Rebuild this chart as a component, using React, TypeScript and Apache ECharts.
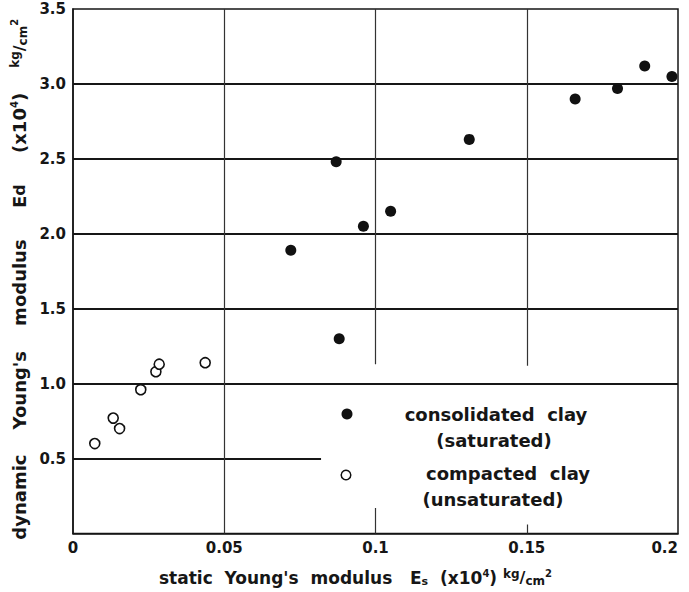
import React, { useEffect, useRef } from "react";
import * as echarts from "echarts";

// consolidated clay (saturated): [Es, Ed] in x10^4 kg/cm2
const consolidatedEs = [0.072, 0.087, 0.096, 0.105, 0.088, 0.131, 0.166, 0.180, 0.189, 0.198];
const consolidatedEd = [1.89, 2.48, 2.05, 2.15, 1.30, 2.63, 2.90, 2.97, 3.12, 3.05];

// compacted clay (unsaturated)
const compactedEs = [0.0072, 0.0133, 0.0154, 0.0224, 0.0274, 0.0285, 0.0437];
const compactedEd = [0.60, 0.77, 0.70, 0.96, 1.08, 1.13, 1.14];

// axis ticks
const xTicks = [0, 0.05, 0.1, 0.15, 0.2];
const yTicks = [0, 0.5, 1.0, 1.5, 2.0, 2.5, 3.0, 3.5];

// grid segments as drawn in the original (partly broken lines)
// horizontal: [y, xFrom, xTo]
const hGrid = [
  [0.5, 0, 0.082],
  [1.0, 0, 0.2],
  [1.5, 0, 0.2],
  [2.0, 0, 0.2],
  [2.5, 0, 0.2],
  [3.0, 0, 0.2],
];
// vertical: [x, yFrom, yTo]
const vGrid = [
  [0.05, 0, 3.5],
  [0.1, 1.13, 3.5],
  [0.1, 0, 0.17],
  [0.15, 1.12, 3.5],
  [0.15, 0, 0.06],
];

const legendLabels = [
  ["consolidated  clay", "(saturated)"],
  ["compacted  clay", "(unsaturated)"],
];

const FONT = "DejaVu Sans";
const INK = "#161616";

export default function App() {
  const ref = useRef<HTMLDivElement>(null);
  useEffect(() => {
    if (!ref.current) return;
    const chart = echarts.init(ref.current, null, { renderer: "svg" });
    const consolidated = consolidatedEs.map((x, i) => [x, consolidatedEd[i]]);
    const compacted = compactedEs.map((x, i) => [x, compactedEd[i]]);

    const gridLines: any[] = [];
    hGrid.forEach(([y, x1, x2]) =>
      gridLines.push([
        { coord: [x1, y], lineStyle: { width: 1.8, color: INK, type: "solid" } },
        { coord: [x2, y] },
      ])
    );
    vGrid.forEach(([x, y1, y2]) =>
      gridLines.push([
        { coord: [x, y1], lineStyle: { width: 1.2, color: "#333", type: "solid" } },
        { coord: [x, y2] },
      ])
    );

    const rich = {
      sub: { fontFamily: FONT, fontWeight: "bold", fontSize: 11, color: INK, padding: [7, 0, 0, 0] },
      sup: { fontFamily: FONT, fontWeight: "bold", fontSize: 10, color: INK, padding: [0, 0, 9, 0] },
      kg: { fontFamily: FONT, fontWeight: "bold", fontSize: 12, color: INK, padding: [0, 0, 8, 0] },
      sl: { fontFamily: FONT, fontWeight: "bold", fontSize: 16, color: INK },
      cm: { fontFamily: FONT, fontWeight: "bold", fontSize: 12, color: INK, padding: [7, 0, 0, 0] },
    };
    const txt = (x: number, y: number, s: string) => ({
      type: "text",
      x,
      y,
      z: 10,
      style: {
        text: s,
        font: `bold 18px "${FONT}"`,
        fill: INK,
        align: "center",
        verticalAlign: "middle",
      },
    });

    chart.setOption({
      animation: false,
      backgroundColor: "#ffffff",
      grid: {
        left: 73,
        right: 11,
        top: 9,
        bottom: 57,
        show: true,
        borderColor: INK,
        borderWidth: 1.5,
        backgroundColor: "transparent",
      },
      xAxis: {
        type: "value",
        min: xTicks[0],
        max: xTicks[xTicks.length - 1],
        interval: 0.05,
        splitLine: { show: false },
        axisTick: { show: false },
        axisLine: { show: true, lineStyle: { color: INK, width: 1.5 } },
        axisLabel: {
          fontFamily: FONT,
          fontWeight: "bold",
          fontSize: 15,
          color: INK,
          margin: 7,
          alignMaxLabel: "right",
          formatter: (v: number) => String(+v.toFixed(2)),
        },
        name:
          "static  Young's  modulus   E{sub|s}  (x10{sup|4}) {kg|kg}{sl|/}{cm|cm}{sup|2}",
        nameLocation: "middle",
        nameGap: 34,
        nameTextStyle: {
          fontFamily: FONT,
          fontWeight: "bold",
          fontSize: 17,
          color: INK,
          padding: [0, 40, 0, 0],
          rich,
        },
      },
      yAxis: {
        type: "value",
        min: yTicks[0],
        max: yTicks[yTicks.length - 1],
        interval: 0.5,
        splitLine: { show: false },
        axisTick: { show: false },
        axisLine: { show: true, lineStyle: { color: INK, width: 1.5 } },
        axisLabel: {
          fontFamily: FONT,
          fontWeight: "bold",
          fontSize: 15,
          color: INK,
          margin: 7,
          formatter: (v: number) => (v === 0 ? "" : v.toFixed(1)),
        },
        name:
          "dynamic    Young's    modulus     E{n|d}     (x10{sup|4})    {kg|kg}{sl|/}{cm|cm}{sup|2}",
        nameLocation: "middle",
        nameGap: 44,
        nameTextStyle: {
          fontFamily: FONT,
          fontWeight: "bold",
          fontSize: 18,
          color: INK,
          padding: [0, 16, 0, 0],
          rich: { ...rich, n: { fontFamily: FONT, fontWeight: "bold", fontSize: 16, color: INK } },
        },
      },
      series: [
        {
          name: "consolidated clay (saturated)",
          type: "scatter",
          data: consolidated,
          symbol: "circle",
          symbolSize: 11,
          itemStyle: { color: "#111", opacity: 1 },
          z: 5,
          markLine: {
            silent: true,
            symbol: ["none", "none"],
            label: { show: false },
            animation: false,
            data: gridLines,
            z: 1,
          },
        },
        {
          name: "compacted clay (unsaturated)",
          type: "scatter",
          data: compacted,
          symbol: "circle",
          symbolSize: 10,
          itemStyle: { color: "#ffffff", borderColor: "#111", borderWidth: 1.6, opacity: 1 },
          z: 5,
        },
      ],
      graphic: [
        { type: "circle", shape: { cx: 347, cy: 414, r: 5.5 }, style: { fill: "#111" }, z: 10 },
        {
          type: "circle",
          shape: { cx: 346, cy: 475, r: 4.8 },
          style: { fill: "#fff", stroke: "#111", lineWidth: 1.5 },
          z: 10,
        },
        txt(496, 414, legendLabels[0][0]),
        txt(494, 440, legendLabels[0][1]),
        txt(508, 473, legendLabels[1][0]),
        txt(493, 499, legendLabels[1][1]),
      ],
    });
    return () => chart.dispose();
  }, []);
  return (
    <div
      ref={ref}
      style={{ width: 689, height: 592, position: "absolute", left: 0, top: 0, background: "#fff" }}
    />
  );
}
